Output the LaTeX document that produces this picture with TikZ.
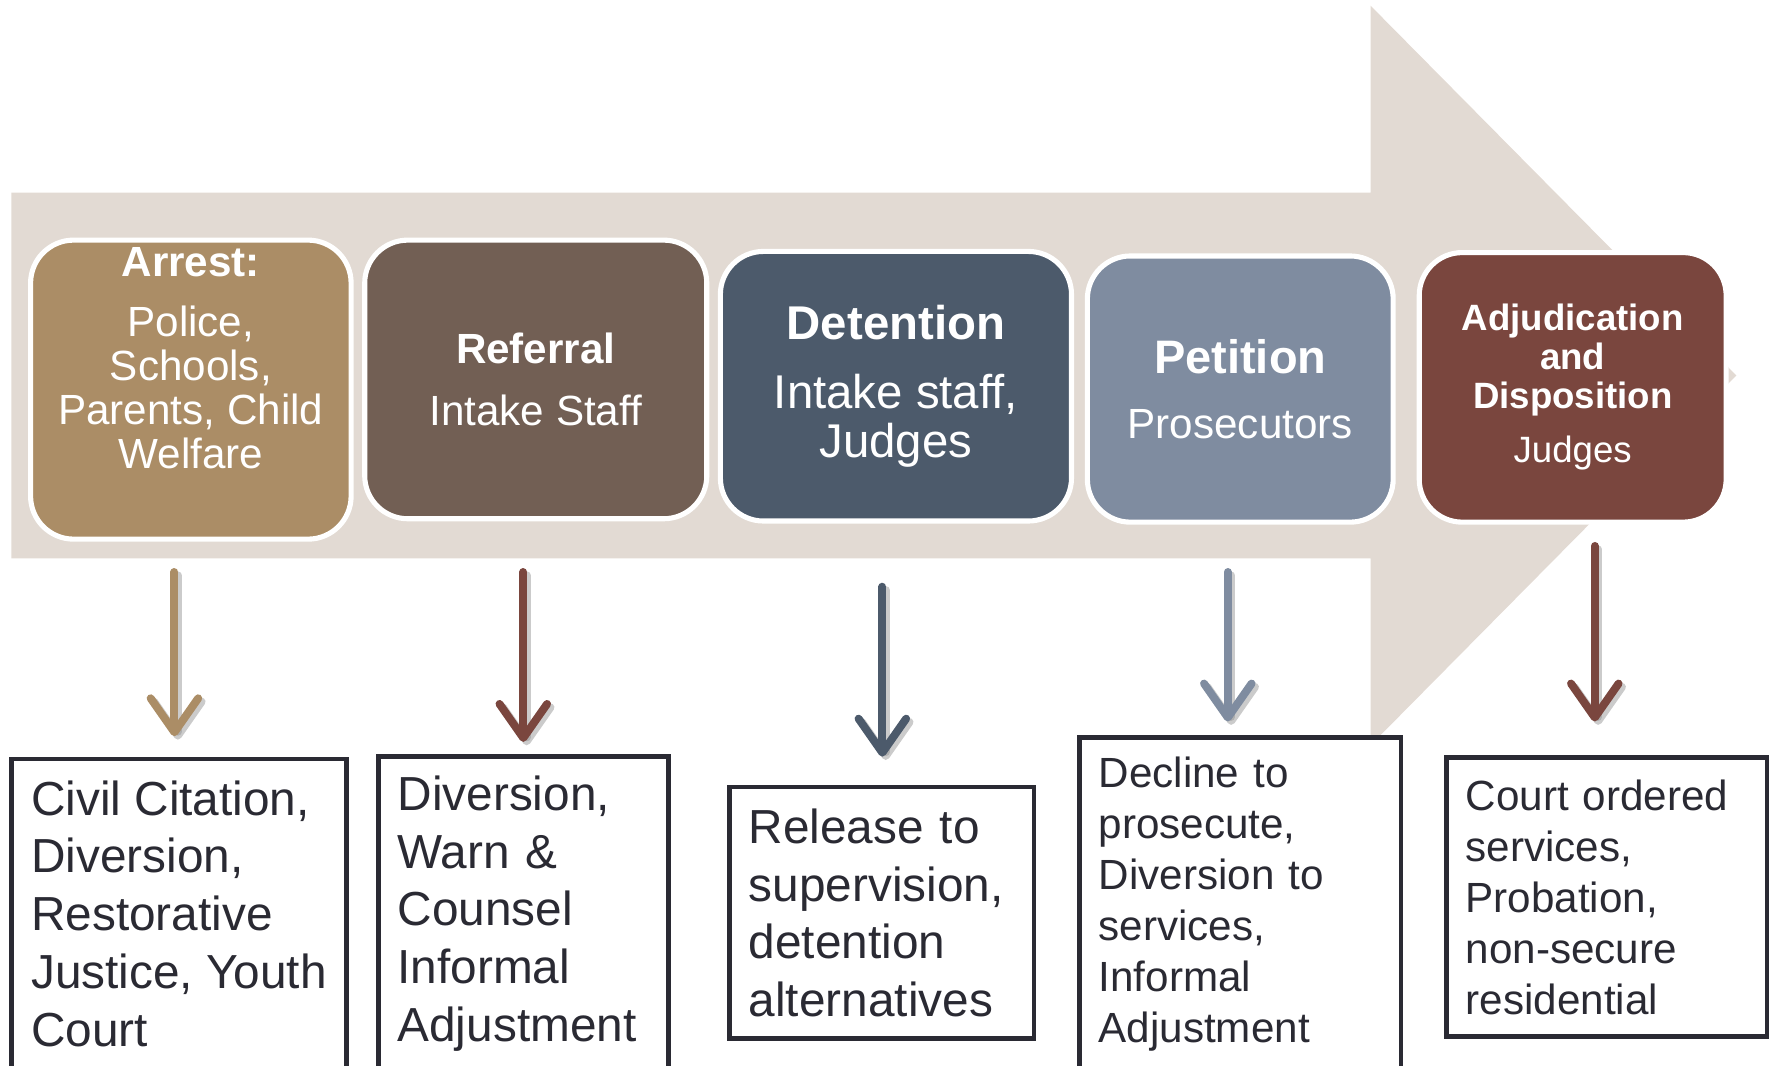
\documentclass[tikz,border=0pt]{standalone}
\usepackage{fontspec}
\setmainfont{Liberation Sans}
\usepackage{tikz}
\usetikzlibrary{arrows.meta}
\usepackage{xcolor}

\definecolor{flowbeige}{HTML}{E2DAD3}
\definecolor{arresttan}{HTML}{AB8D66}
\definecolor{referralbrown}{HTML}{725F54}
\definecolor{detentionslate}{HTML}{4C5A6B}
\definecolor{petitionblue}{HTML}{7F8CA0}
\definecolor{adjudrust}{HTML}{7A463E}
\definecolor{outline}{HTML}{2A2A33}

\tikzset{
  stage/.style={rectangle,rounded corners=0.38cm,draw=white,line width=0.045cm,text=white,align=center,inner sep=0pt},
  outcome/.style={rectangle,draw=outline,fill=white,line width=0.04cm,text=outline,align=left,inner sep=0.17cm},
  bigtext/.style={font=\fontsize{12}{14.5}\selectfont},
  smalltext/.style={font=\fontsize{10.6}{12.8}\selectfont},
  downarrow/.style={line width=0.07cm,line cap=round,-{Straight Barb[length=0.3cm,width=0.42cm,line cap=round,line join=round]}},
  arrowshadow/.style={downarrow,draw=black!45,opacity=0.45}
}

\begin{document}
\begin{tikzpicture}
  \useasboundingbox (0,0) rectangle (15.68,9.41);
  \clip (0,0) rectangle (15.68,9.41);
  % the big flow arrow behind the stages
  \fill[flowbeige] (0.10,4.48) -- (0.10,7.71) -- (12.10,7.71) -- (12.10,9.36) -- (15.33,6.095) -- (12.10,2.83) -- (12.10,4.48) -- cycle;
  % stages
  \node (arrest) at (1.685,5.97) [stage,fill=arresttan,minimum width=2.83cm,minimum height=2.64cm,font=\fontsize{10.6}{11.1}\selectfont]
    {{\bfseries Arrest:}\\[0.14cm]Police,\\Schools,\\Parents, Child\\Welfare\\[0.17cm]\mbox{}};
  \node (referral) at (4.73,6.06) [stage,fill=referralbrown,minimum width=3.02cm,minimum height=2.46cm,font=\fontsize{10.6}{12.5}\selectfont]
    {{\bfseries Referral}\\[0.10cm]Intake Staff};
  \node (detention) at (7.91,6.00) [stage,fill=detentionslate,minimum width=3.10cm,minimum height=2.38cm,font=\fontsize{11.9}{12.5}\selectfont]
    {{\bfseries Detention}\\[0.17cm]Intake staff,\\Judges};
  \node (petition) at (10.95,5.975) [stage,fill=petitionblue,minimum width=2.70cm,minimum height=2.35cm,font=\fontsize{10.6}{12.5}\selectfont]
    {{\fontsize{11.8}{12.5}\selectfont\bfseries Petition}\\[0.14cm]Prosecutors};
  \node (adjudication) at (13.885,5.99) [stage,fill=adjudrust,minimum width=2.71cm,minimum height=2.38cm,font=\fontsize{9.2}{9.7}\selectfont]
    {\bfseries Adjudication\\\bfseries and\\\bfseries Disposition\\[0.14cm]Judges};
  % outcomes
  \node (civil) at (1.58,1.345) [outcome,bigtext,minimum width=2.96cm,minimum height=2.73cm]
    {Civil Citation,\\Diversion,\\Restorative\\Justice, Youth\\Court};
  \node (diversion) at (4.62,1.345) [outcome,bigtext,text width=2.22cm,minimum height=2.73cm]
    {Diversion,\\Warn \&\\Counsel\\Informal\\Adjustment};
  \node (release) at (7.785,1.35) [outcome,bigtext,text width=2.35cm,minimum height=2.22cm]
    {Release to\\supervision,\\detention\\alternatives};
  \node (decline) at (10.95,1.43) [outcome,smalltext,text width=2.50cm,minimum height=2.92cm]
    {Decline to\\prosecute,\\Diversion to\\services,\\Informal\\Adjustment};
  \node (court) at (14.185,1.49) [outcome,smalltext,text width=2.49cm,minimum height=2.46cm]
    {Court ordered\\services,\\Probation,\\non-secure\\residential};
  % arrow ends
  \coordinate (a1top) at (1.54,4.36);
  \coordinate (a1tip) at (1.54,2.91);
  \coordinate (a2top) at (4.62,4.36);
  \coordinate (a2tip) at (4.62,2.86);
  \coordinate (a3top) at (7.79,4.23);
  \coordinate (a3tip) at (7.79,2.73);
  \coordinate (a4top) at (10.84,4.36);
  \coordinate (a4tip) at (10.84,3.04);
  \coordinate (a5top) at (14.08,4.59);
  \coordinate (a5tip) at (14.08,3.04);
  % shadows
  \draw[arrowshadow] ([shift={(0.03,-0.03)}]a1top) -- ([shift={(0.03,-0.03)}]a1tip);
  \draw[arrowshadow] ([shift={(0.03,-0.03)}]a2top) -- ([shift={(0.03,-0.03)}]a2tip);
  \draw[arrowshadow] ([shift={(0.03,-0.03)}]a3top) -- ([shift={(0.03,-0.03)}]a3tip);
  \draw[arrowshadow] ([shift={(0.03,-0.03)}]a4top) -- ([shift={(0.03,-0.03)}]a4tip);
  \draw[arrowshadow] ([shift={(0.03,-0.03)}]a5top) -- ([shift={(0.03,-0.03)}]a5tip);
  % down arrows
  \draw[downarrow,draw=arresttan] (a1top) -- (a1tip);
  \draw[downarrow,draw=adjudrust] (a2top) -- (a2tip);
  \draw[downarrow,draw=detentionslate] (a3top) -- (a3tip);
  \draw[downarrow,draw=petitionblue] (a4top) -- (a4tip);
  \draw[downarrow,draw=adjudrust] (a5top) -- (a5tip);
\end{tikzpicture}
\end{document}
